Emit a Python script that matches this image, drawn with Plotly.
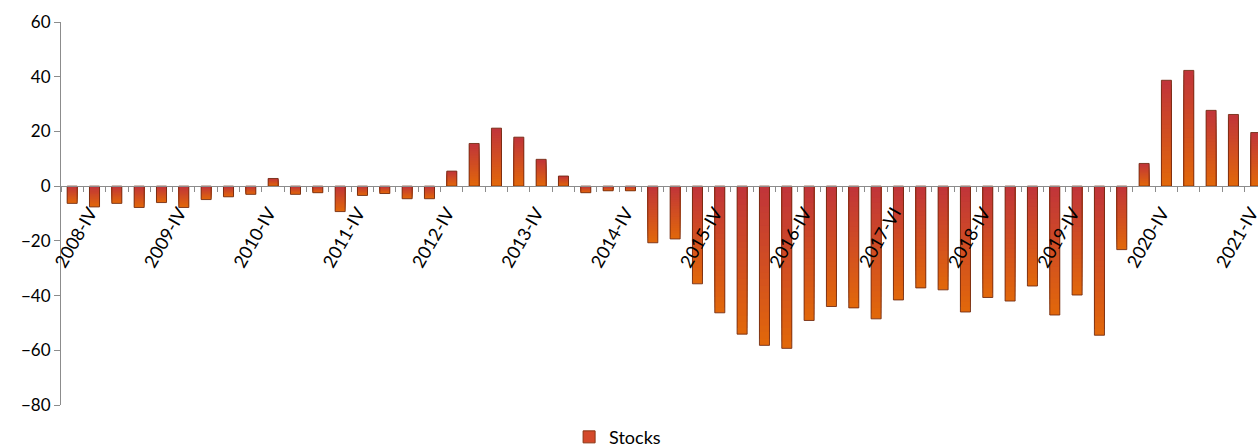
import plotly.graph_objects as go

quarters = [
    "2008-III", "2008-IV", "2009-I", "2009-II", "2009-III", "2009-IV", "2010-I", "2010-II", "2010-III", "2010-IV",
    "2011-I", "2011-II", "2011-III", "2011-IV", "2012-I", "2012-II", "2012-III", "2012-IV",
    "2013-I", "2013-II", "2013-III", "2013-IV", "2014-I", "2014-II", "2014-III", "2014-IV",
    "2015-I", "2015-II", "2015-III", "2015-IV", "2016-I", "2016-II", "2016-III", "2016-IV",
    "2017-I", "2017-II", "2017-III", "2017-VI", "2018-I", "2018-II", "2018-III", "2018-IV",
    "2019-I", "2019-II", "2019-III", "2019-IV", "2020-I", "2020-II", "2020-III", "2020-IV",
    "2021-I", "2021-II", "2021-III", "2021-IV",
]

stocks = [
    -6.3, -7.6, -6.3, -7.8, -6.0, -7.8, -4.9, -3.9, -3.0, 2.8,
    -3.0, -2.4, -9.3, -3.4, -2.7, -4.6, -4.6, 5.5,
    15.6, 21.2, 17.9, 9.8, 3.7, -2.4, -1.7, -1.7,
    -20.7, -19.3, -35.7, -46.3, -54.1, -58.2, -59.3, -49.1,
    -44.0, -44.5, -48.5, -41.6, -37.2, -37.9, -46.0, -40.7,
    -42.0, -36.5, -47.1, -39.8, -54.5, -23.2, 8.3, 38.7,
    42.3, 27.7, 26.2, 19.6,
]

label_idx = list(range(1, len(quarters), 4))
label_text = [quarters[i] for i in label_idx]
x = list(range(len(quarters)))

TOP_RGB = (192, 52, 58)      # red at the top of each bar
BOTTOM_RGB = (226, 104, 10)  # orange at the bottom of each bar
N_STEPS = 24
BAR_W = 0.45
LABEL_NUDGE = -0.2


def mix(t):
    r = [round(a + (b - a) * t) for a, b in zip(TOP_RGB, BOTTOM_RGB)]
    return f"rgb({r[0]},{r[1]},{r[2]})"


fig = go.Figure()
# gradient: overlay progressively shorter bars, each coloured for its far end
for k in range(N_STEPS):
    frac = (N_STEPS - k) / N_STEPS
    ys = [v * frac for v in stocks]
    tpos = (N_STEPS - k - 0.5) / N_STEPS
    cols = [mix(tpos) if v < 0 else mix(1 - tpos) for v in stocks]
    fig.add_trace(go.Bar(
        x=x, y=ys, width=BAR_W, showlegend=False, hoverinfo="skip",
        marker=dict(color=cols, line=dict(width=0)),
    ))
# outline of the full bars
fig.add_trace(go.Bar(
    x=x, y=stocks, width=BAR_W, name="Stocks", showlegend=False,
    marker=dict(color="rgba(0,0,0,0)", line=dict(color="rgba(110,40,15,0.85)", width=1)),
))
# legend entry
fig.add_trace(go.Bar(
    x=[None], y=[None], name="Stocks", showlegend=True,
    marker=dict(color="#d4492a", line=dict(color="#8a3512", width=1)),
))

ymin, ymax = -80, 60
fig.update_layout(
    width=1258, height=447,
    barmode="overlay",
    margin=dict(l=61, r=0, t=22, b=42, autoexpand=False),
    plot_bgcolor="white", paper_bgcolor="white",
    font=dict(family="Lato, Open Sans, sans-serif", size=16, color="#000"),
    showlegend=True,
    legend=dict(orientation="h", x=0.465, xanchor="center", y=-0.084, yanchor="middle",
                font=dict(size=18), itemwidth=30),
    xaxis=dict(
        range=[-0.5, 53.1], automargin=False,
        tickmode="array", tickvals=[i + LABEL_NUDGE for i in label_idx], ticktext=label_text,
        tickangle=-60, ticks="", ticklen=0, ticklabeloverflow="allow",
        ticklabelstandoff=8,
        showline=True, linecolor="#8c8c8c", linewidth=1,
        anchor="free", position=(0 - ymin) / (ymax - ymin),
        showgrid=False, zeroline=False,
        minor=dict(tickmode="linear", tick0=0.5, dtick=1, ticks="outside",
                   ticklen=5, tickcolor="#8c8c8c", showgrid=False),
        tickfont=dict(size=18),
    ),
    yaxis=dict(
        range=[ymin, ymax], dtick=20, tick0=0, automargin=False,
        ticks="outside", ticklen=6, tickcolor="#8c8c8c",
        showline=True, linecolor="#8c8c8c", linewidth=1,
        showgrid=False, zeroline=False,
        tickfont=dict(size=17),
    ),
)

fig.write_html(
    "out.html",
    config={"displayModeBar": False},
    post_script="document.body.style.margin='0';document.body.style.overflow='hidden';",
)
